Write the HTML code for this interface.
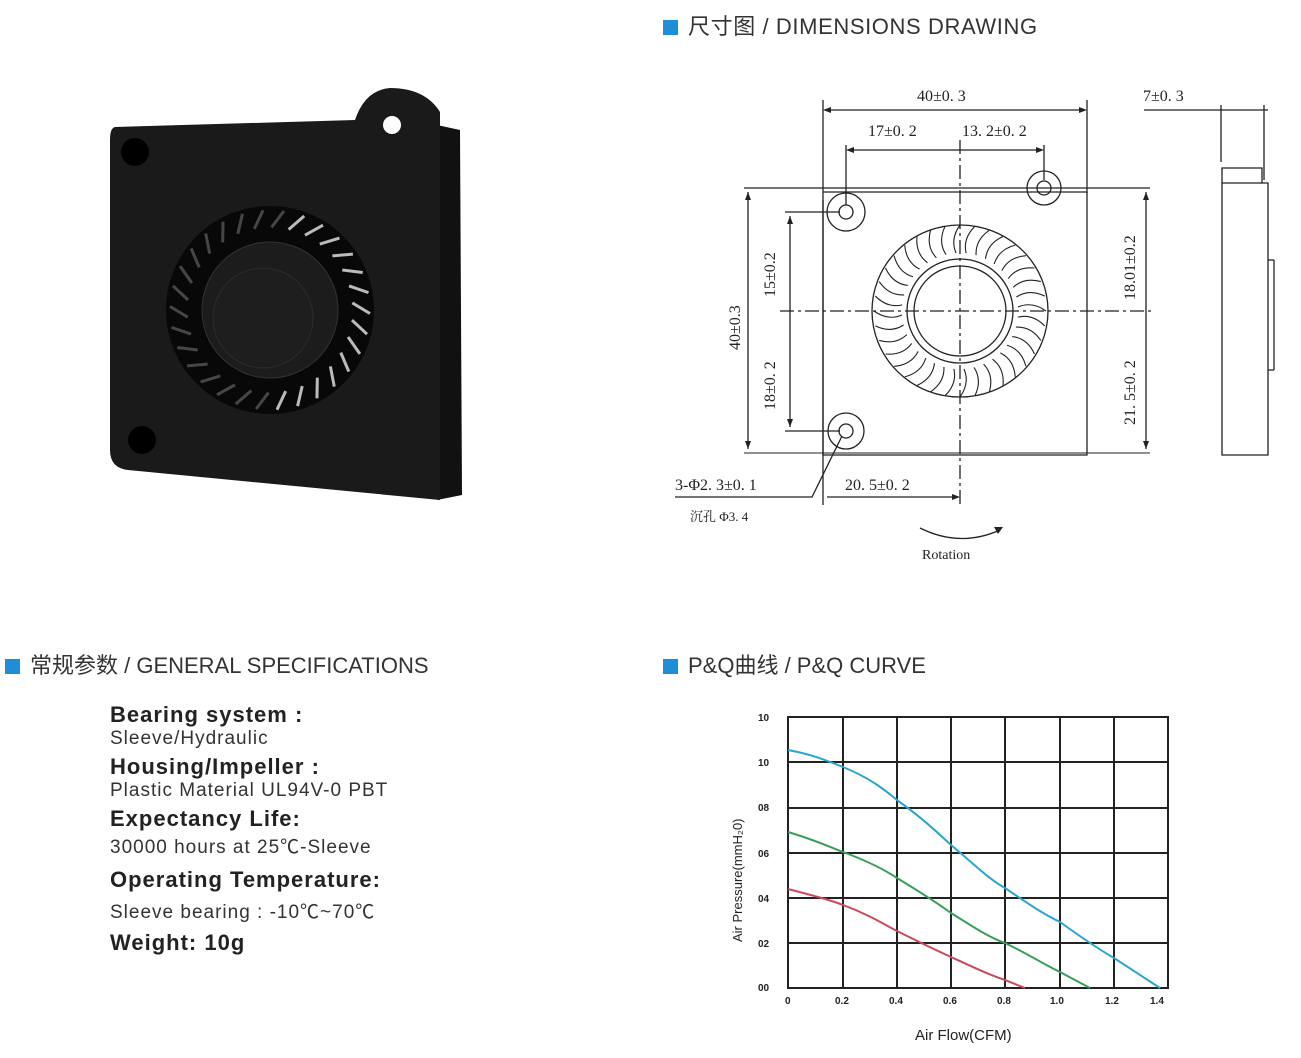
<!DOCTYPE html>
<html><head><meta charset="utf-8"><style>
body{margin:0;background:#fff;width:1301px;height:1058px;overflow:hidden;position:relative;font-family:"Liberation Sans","Noto Sans CJK SC",sans-serif;}
.h{position:absolute;font-size:22px;color:#333;}
.h i{display:inline-block;width:15px;height:15px;background:#1e8fd6;margin-right:10px;vertical-align:-1px;}
.spec{position:absolute;left:110px;top:698px;color:#222;}
.spec b{display:block;font-size:22px;letter-spacing:1px;margin-top:4px}
.spec span{display:block;font-size:19px;letter-spacing:1px;color:#333}
svg{position:absolute;left:0;top:0}
</style></head><body>
<div class="h" style="left:663px;top:9px;letter-spacing:0.6px"><i></i>尺寸图 / DIMENSIONS DRAWING</div>
<div class="h" style="left:5px;top:648px"><i></i>常规参数 / GENERAL SPECIFICATIONS</div>
<div class="h" style="left:663px;top:648px"><i></i>P&amp;Q曲线 / P&amp;Q CURVE</div>
<div class="spec">
<b>Bearing system :</b><span>Sleeve/Hydraulic</span>
<b>Housing/Impeller :</b><span>Plastic Material UL94V-0 PBT</span>
<b>Expectancy Life:</b><span>30000 hours at 25℃-Sleeve</span>
<b style="margin-top:8px">Operating Temperature:</b><span style="margin-top:4px">Sleeve bearing : -10℃~70℃</span>
<b style="margin-top:6px">Weight: 10g</b>
</div>
<svg width="1301" height="1058" viewBox="0 0 1301 1058">
<defs>
<line id="pb" x1="0" y1="-100" x2="-10" y2="-82" stroke="#bbb" stroke-width="3"/>
<path id="db" d="M0,-86 Q-10,-72 -4,-58" fill="none" stroke="#222" stroke-width="1.1"/>
</defs>
<!-- fan photo -->
<polygon points="437,125 460,130 462,495 437,500" fill="#111"/>
<path d="M115,127 L355,120 Q365,90 390,88 Q425,88 440,112 L440,500 L128,470 Q110,468 110,450 L110,140 Q110,128 115,127Z" fill="#1a1a1a"/>
<circle cx="392" cy="125" r="9" fill="#fff"/>
<circle cx="135" cy="152" r="14" fill="#000"/>
<circle cx="142" cy="440" r="14" fill="#000"/>
<circle cx="270" cy="310" r="104" fill="#080808"/>
<g transform="translate(270,310)">
<use href="#pb" transform="rotate(20)"/><use href="#pb" transform="rotate(32)"/><use href="#pb" transform="rotate(44)"/><use href="#pb" transform="rotate(56)"/><use href="#pb" transform="rotate(68)"/><use href="#pb" transform="rotate(80)"/><use href="#pb" transform="rotate(92)"/><use href="#pb" transform="rotate(104)"/><use href="#pb" transform="rotate(116)"/><use href="#pb" transform="rotate(128)"/><use href="#pb" transform="rotate(140)"/><use href="#pb" transform="rotate(152)"/><use href="#pb" transform="rotate(164)"/><use href="#pb" transform="rotate(176)"/>
<g opacity="0.35"><use href="#pb" transform="rotate(188)"/><use href="#pb" transform="rotate(200)"/><use href="#pb" transform="rotate(212)"/><use href="#pb" transform="rotate(224)"/><use href="#pb" transform="rotate(236)"/><use href="#pb" transform="rotate(248)"/><use href="#pb" transform="rotate(260)"/><use href="#pb" transform="rotate(272)"/><use href="#pb" transform="rotate(284)"/><use href="#pb" transform="rotate(296)"/><use href="#pb" transform="rotate(308)"/><use href="#pb" transform="rotate(320)"/><use href="#pb" transform="rotate(332)"/><use href="#pb" transform="rotate(344)"/><use href="#pb" transform="rotate(356)"/><use href="#pb" transform="rotate(8)"/></g>
</g>
<circle cx="270" cy="310" r="68" fill="#1c1c1c" stroke="#333"/>
<circle cx="263" cy="318" r="50" fill="#1e1e1e" stroke="#2c2c2c"/>
<!-- drawing -->
<g stroke="#222" stroke-width="1.3" fill="none">
<path d="M823,200 L823,455 L1087,455 L1087,192"/>
<line x1="823" y1="192" x2="1087" y2="192"/>
<line x1="744" y1="188" x2="1150" y2="188"/>
<line x1="744" y1="453" x2="1150" y2="453" stroke-width="1"/>
<line x1="823" y1="100" x2="823" y2="505"/><line x1="1087" y1="100" x2="1087" y2="193"/>
<line x1="827" y1="110" x2="1083" y2="110"/>
<line x1="846" y1="145" x2="846" y2="205"/><line x1="1044" y1="145" x2="1044" y2="180"/>
<line x1="850" y1="150" x2="1040" y2="150"/>
<line x1="960" y1="140" x2="960" y2="505" stroke-dasharray="14,4,3,4"/>
<line x1="780" y1="311" x2="1155" y2="311" stroke-dasharray="14,4,3,4"/>
<line x1="748" y1="192" x2="748" y2="449"/>
<line x1="785" y1="212" x2="840" y2="212"/><line x1="785" y1="431" x2="840" y2="431"/>
<line x1="790" y1="216" x2="790" y2="427"/>
<line x1="1146" y1="192" x2="1146" y2="449"/>
<line x1="827" y1="497" x2="956" y2="497"/>
<path d="M675,497 L812,497 L842,436"/>
<circle cx="846" cy="212" r="19"/><circle cx="846" cy="212" r="7"/>
<circle cx="1044" cy="188" r="17"/><circle cx="1044" cy="188" r="7"/>
<circle cx="846" cy="431" r="18"/><circle cx="846" cy="431" r="7"/>
<ellipse cx="960" cy="311" rx="88" ry="86"/>
<ellipse cx="960" cy="311" rx="53" ry="52"/>
<ellipse cx="960" cy="311" rx="46" ry="45"/>
<path d="M1222,168 L1262,168 L1262,183 L1268,183 L1268,455 L1222,455 Z"/>
<line x1="1222" y1="183" x2="1262" y2="183"/>
<line x1="1221" y1="105" x2="1221" y2="162"/><line x1="1264" y1="105" x2="1264" y2="180"/>
<line x1="1144" y1="110" x2="1268" y2="110"/>
<path d="M920,528 Q960,548 1000,530"/>
<line x1="1268" y1="260" x2="1274" y2="260"/><line x1="1274" y1="260" x2="1274" y2="370"/><line x1="1268" y1="370" x2="1274" y2="370"/>
</g>
<g transform="translate(960,311)">
<use href="#db" transform="rotate(0)"/><use href="#db" transform="rotate(10)"/><use href="#db" transform="rotate(20)"/><use href="#db" transform="rotate(30)"/><use href="#db" transform="rotate(40)"/><use href="#db" transform="rotate(50)"/><use href="#db" transform="rotate(60)"/><use href="#db" transform="rotate(70)"/><use href="#db" transform="rotate(80)"/><use href="#db" transform="rotate(90)"/><use href="#db" transform="rotate(100)"/><use href="#db" transform="rotate(110)"/><use href="#db" transform="rotate(120)"/><use href="#db" transform="rotate(130)"/><use href="#db" transform="rotate(140)"/><use href="#db" transform="rotate(150)"/><use href="#db" transform="rotate(160)"/><use href="#db" transform="rotate(170)"/><use href="#db" transform="rotate(180)"/><use href="#db" transform="rotate(190)"/><use href="#db" transform="rotate(200)"/><use href="#db" transform="rotate(210)"/><use href="#db" transform="rotate(220)"/><use href="#db" transform="rotate(230)"/><use href="#db" transform="rotate(240)"/><use href="#db" transform="rotate(250)"/><use href="#db" transform="rotate(260)"/><use href="#db" transform="rotate(270)"/><use href="#db" transform="rotate(280)"/><use href="#db" transform="rotate(290)"/><use href="#db" transform="rotate(300)"/><use href="#db" transform="rotate(310)"/><use href="#db" transform="rotate(320)"/><use href="#db" transform="rotate(330)"/><use href="#db" transform="rotate(340)"/><use href="#db" transform="rotate(350)"/>
</g>
<g fill="#222">
<polygon points="823,110 831,107 831,113"/><polygon points="1087,110 1079,107 1079,113"/>
<polygon points="846,150 854,147 854,153"/><polygon points="1044,150 1036,147 1036,153"/>
<polygon points="748,192 745,200 751,200"/><polygon points="748,449 745,441 751,441"/>
<polygon points="790,216 787,224 793,224"/><polygon points="790,427 787,419 793,419"/>
<polygon points="1146,192 1143,200 1149,200"/><polygon points="1146,449 1143,441 1149,441"/>
<polygon points="960,497 952,494 952,500"/><polygon points="1003,527 994,527 998,534"/>
</g>
<g font-family="Liberation Serif,Noto Serif CJK SC,serif" font-size="16" fill="#222">
<text x="917" y="101">40±0. 3</text>
<text x="868" y="136">17±0. 2</text><text x="962" y="136">13. 2±0. 2</text>
<text x="1143" y="101">7±0. 3</text>
<text x="675" y="490">3-Φ2. 3±0. 1</text>
<text x="845" y="490">20. 5±0. 2</text>
<text x="690" y="521" font-size="13">沉孔 Φ3. 4</text>
<text x="922" y="559" font-size="14">Rotation</text>
<text transform="translate(740,350) rotate(-90)">40±0.3</text>
<text transform="translate(775,297) rotate(-90)">15±0.2</text>
<text transform="translate(775,410) rotate(-90)">18±0. 2</text>
<text transform="translate(1135,300) rotate(-90)">18.01±0.2</text>
<text transform="translate(1135,425) rotate(-90)">21. 5±0. 2</text>
</g>
<!-- chart -->
<g stroke="#222" stroke-width="2">
<rect x="788" y="717" width="380" height="271" fill="none"/>
<line x1="843" y1="717" x2="843" y2="988"/><line x1="897" y1="717" x2="897" y2="988"/><line x1="951" y1="717" x2="951" y2="988"/>
<line x1="1005" y1="717" x2="1005" y2="988"/><line x1="1060" y1="717" x2="1060" y2="988"/><line x1="1114" y1="717" x2="1114" y2="988"/>
<line x1="788" y1="762" x2="1168" y2="762"/><line x1="788" y1="808" x2="1168" y2="808"/><line x1="788" y1="853" x2="1168" y2="853"/>
<line x1="788" y1="898" x2="1168" y2="898"/><line x1="788" y1="943" x2="1168" y2="943"/>
</g>
<g fill="none" stroke-width="2">
<path d="M788,750 C815,755 830,762 843,767 C870,778 885,790 897,800 C925,820 940,835 951,845 C975,865 990,880 1005,888 C1030,905 1045,915 1060,922 C1085,940 1100,950 1114,958 L1160,988" stroke="#2aa5cf"/>
<path d="M788,832 C815,840 830,847 843,852 C870,862 885,870 897,878 C925,895 940,905 951,913 C975,928 990,938 1005,943 C1030,955 1045,965 1060,972 L1090,988" stroke="#3a9e5a"/>
<path d="M788,889 C815,896 830,900 843,905 C870,915 885,925 897,931 C925,945 940,952 951,957 C975,968 990,975 1005,980 L1025,988" stroke="#c84a5a"/>
</g>
<g font-size="10" font-weight="bold" fill="#222" font-family="Liberation Sans,sans-serif">
<text x="758" y="721">10</text><text x="758" y="766">10</text><text x="758" y="811">08</text><text x="758" y="857">06</text>
<text x="758" y="902">04</text><text x="758" y="947">02</text><text x="758" y="991">00</text>
<text x="785" y="1004">0</text><text x="835" y="1004">0.2</text><text x="889" y="1004">0.4</text><text x="943" y="1004">0.6</text>
<text x="997" y="1004">0.8</text><text x="1050" y="1004">1.0</text><text x="1105" y="1004">1.2</text><text x="1150" y="1004">1.4</text>
</g>
<text x="915" y="1040" font-size="15" fill="#222" font-family="Liberation Sans,sans-serif">Air Flow(CFM)</text>
<text transform="translate(742,942) rotate(-90)" font-size="13" fill="#222" font-family="Liberation Sans,sans-serif">Air Pressure(mmH₂0)</text>
</svg>
</body></html>
